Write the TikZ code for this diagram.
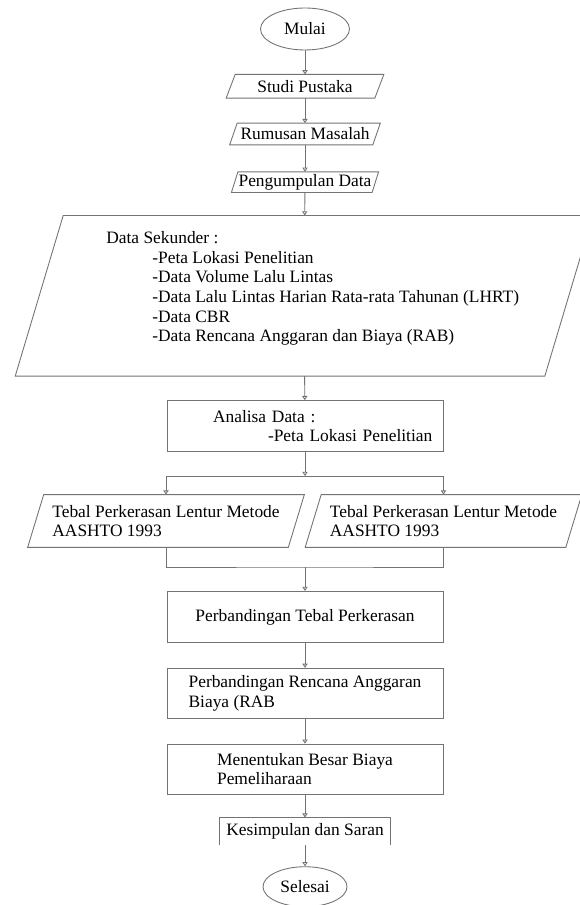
\documentclass[tikz,border=0pt]{standalone}
\usepackage{fontspec}
\setmainfont{Liberation Serif}
\usetikzlibrary{arrows.meta,shapes.geometric,positioning}

\begin{document}
\begin{tikzpicture}[x=0.02cm, y=-0.02cm,
  every node/.style={font=\fontsize{9.9}{11.2}\selectfont},
  line/.style={draw=black!55, line width=0.5pt},
  term/.style={ellipse, line, inner sep=0pt},
  data/.style={rectangle, inner sep=1pt},
  proc/.style={rectangle, line, minimum width=5.52cm, minimum height=1cm, align=left},
  >={Triangle[open,length=2.4pt,width=3pt]}]
\useasboundingbox (0,0) rectangle (579,905);
\node[term, minimum width=1.78cm, minimum height=0.84cm] (M) at (305,29) {Mulai};
\node[data, minimum width=2.96cm, minimum height=0.46cm, below=0.48cm of M] (SP) {Studi Pustaka};
\node[data, minimum width=2.85cm, minimum height=0.42cm, below=0.5cm of SP] (RM) {Rumusan Masalah};
\node[data, minimum width=2.8cm, minimum height=0.4cm, below=0.54cm of RM] (PD) {Pengumpulan Data};
\node[data, minimum width=10.58cm, minimum height=3.2cm, below=0.46cm of PD, xshift=-0.02cm] (DS) {};
\node[anchor=north west, inner sep=0pt, align=left] (DST) at (106,231) {Data Sekunder :\\
  \hspace*{0.92cm}-Peta Lokasi Penelitian\\
  \hspace*{0.92cm}-Data Volume Lalu Lintas\\
  \hspace*{0.92cm}-Data Lalu Lintas Harian Rata-rata Tahunan (LHRT)\\
  \hspace*{0.92cm}-Data CBR\\
  \hspace*{0.92cm}-Data Rencana Anggaran dan Biaya (RAB)};
\node[proc, text width=5.52cm, inner xsep=0pt, minimum height=1.02cm, below=0.48cm of DS, xshift=0.02cm] (AD)
  {\hspace*{0.92cm}Analisa Data :\\\hspace*{2.02cm}-Peta Lokasi Penelitian};
\coordinate[below=0.48cm of AD] (S);
\node[data, minimum width=5.2cm, minimum height=1.04cm, align=left] (TL) at (166,521)
  {Tebal Perkerasan Lentur Metode\\AASHTO 1993};
\node[data, minimum width=5.2cm, minimum height=1.04cm, align=left] (TR) at (443.5,521)
  {Tebal Perkerasan Lentur Metode\\AASHTO 1993};
\foreach \n/\s in {SP/0.09, RM/0.075, PD/0.065, DS/0.48, TL/0.16, TR/0.16}
  \draw[line] ([xshift=\s cm]\n.north west) -- ([xshift=\s cm]\n.north east)
    -- ([xshift=-\s cm]\n.south east) -- ([xshift=-\s cm]\n.south west) -- cycle;
\coordinate (J) at (305,567);
\node[proc, minimum height=1.02cm, below=0.48cm of J] (PT) {Perbandingan Tebal Perkerasan};
\node[proc, below=0.5cm of PT] (PR) {Perbandingan Rencana Anggaran\\Biaya (RAB};
\node[proc, below=0.5cm of PR] (MB) {Menentukan Besar Biaya\\Pemeliharaan};
\node[minimum width=3.42cm, minimum height=0.54cm, inner sep=0pt, below=0.46cm of MB] (KS)
  {Kesimpulan dan Saran};
\node[term, minimum width=1.68cm, minimum height=0.8cm, below=0.42cm of KS] (SE) {Selesai};
\draw[line, ->] (M) -- (SP);
\draw[line, ->] (SP) -- (RM);
\draw[line, ->] (RM) -- (PD);
\draw[line, ->] (PD) -- (DS);
\draw[line, ->] (DS) -- (AD);
\draw[line, ->] (AD) -- (S);
\draw[line, ->] (S) -| (TL.north);
\draw[line, ->] (S) -| (TR.north);
\draw[line] (TL.south) |- (J) -| (TR.south);
\draw[line, ->] (J) -- (PT);
\draw[line, ->] (PT) -- (PR);
\draw[line, ->] (PR) -- (MB);
\draw[line, ->] (MB) -- (KS);
\draw[line] (KS.south west) |- (KS.north east) -- (KS.south east);
\draw[line, ->] (KS) -- (SE);
\end{tikzpicture}
\end{document}
